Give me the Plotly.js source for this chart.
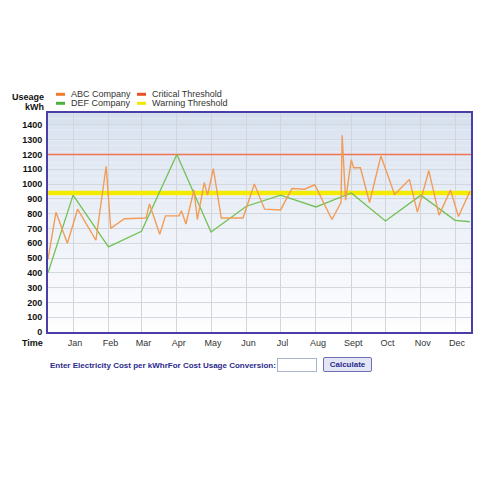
<!DOCTYPE html>
<html>
<head>
<meta charset="utf-8">
<script src="https://cdn.plot.ly/plotly-3.0.1.min.js"></script>
<style>
  html, body { margin: 0; padding: 0; background: #ffffff; }
  #wrap { position: relative; width: 480px; height: 480px; }
  #chart { position: absolute; left: 0; top: 0; width: 480px; height: 480px; }
  #costInput { position: absolute; left: 277px; top: 358px; width: 38px; height: 12px; border: 1px solid #a9b4cc; padding: 0; margin: 0; background: #fff; }
  #calcBtn { position: absolute; left: 323px; top: 357px; width: 49px; height: 15px; padding: 0; margin: 0;
    font: bold 8px "Liberation Sans", Arial, sans-serif; color: #2b2b8c; background: #e3e6f4;
    border: 1px solid #6f70b4; border-radius: 2px; }
</style>
</head>
<body>
<div id="wrap">
  <div id="chart"></div>
  <input id="costInput" type="text">
  <button id="calcBtn">Calculate</button>
</div>
<script>
// ---------- data ----------
const abcDates = ['2011-12-10','2011-12-17','2011-12-27','2012-01-05','2012-01-21','2012-01-30','2012-02-03','2012-02-15',
  '2012-03-05','2012-03-08','2012-03-17','2012-03-22','2012-04-03','2012-04-05','2012-04-09','2012-04-16','2012-04-19',
  '2012-04-25','2012-04-28','2012-05-03','2012-05-10','2012-05-29','2012-06-08','2012-06-17','2012-07-01','2012-07-11',
  '2012-07-22','2012-07-31','2012-08-15','2012-08-23','2012-08-24','2012-08-27','2012-09-01','2012-09-03','2012-09-09',
  '2012-09-17','2012-09-27','2012-10-09','2012-10-22','2012-10-29','2012-11-08','2012-11-17','2012-11-27','2012-12-04','2012-12-14'];
const abcUsage = [490,810,600,830,620,1120,700,765,
  770,865,660,785,785,820,730,960,760,
  1010,925,1105,770,770,1000,830,825,970,
  965,995,760,875,1330,890,1165,1110,1110,
  875,1190,930,1030,810,1090,790,960,780,950];

const defDates = ['2011-12-10','2012-01-01','2012-02-01','2012-03-01','2012-04-01','2012-05-01','2012-06-01',
  '2012-07-01','2012-08-01','2012-09-01','2012-10-01','2012-11-01','2012-12-01','2012-12-14'];
const defUsage = [400,925,575,680,1200,675,850,925,845,940,750,925,755,745];

const criticalThreshold = 1200;
const warningThreshold = 940;

const seriesNames = ['ABC Company','DEF Company','Critical Threshold','Warning Threshold'];
const monthTicks = ['2012-01-01','2012-02-01','2012-03-01','2012-04-01','2012-05-01','2012-06-01',
  '2012-07-01','2012-08-01','2012-09-01','2012-10-01','2012-11-01','2012-12-01'];
const monthLabels = ['Jan','Feb','Mar','Apr','May','Jun','Jul','Aug','Sept','Oct','Nov','Dec'];
const xRange = ['2011-12-10','2012-12-15'];
const yRange = [0, 1480];

// ---------- styles ----------
const C_ABC = '#f29c58', C_DEF = '#72c055', C_CRIT = '#f07555', C_WARN = '#f4ec00';
const C_FRAME = '#4a3fa6';
const FONT = '"Liberation Sans", Arial, sans-serif';

// plot box in pixels
const L = 48, R = 9, T = 113, B = 148, W = 480 - L - R, H = 480 - T - B;
const px = x => (x - L) / W;
const py = y => (T + H - y) / H;

const traces = [
  { x: xRange, y: [criticalThreshold, criticalThreshold], type: 'scatter', mode: 'lines', name: seriesNames[2],
    line: { color: C_CRIT, width: 1.5 }, showlegend: false },
  { x: xRange, y: [warningThreshold, warningThreshold], type: 'scatter', mode: 'lines', name: seriesNames[3],
    line: { color: C_WARN, width: 4.5 }, showlegend: false },
  { x: defDates, y: defUsage, type: 'scatter', mode: 'lines', name: seriesNames[1],
    line: { color: C_DEF, width: 1.3 }, showlegend: false },
  { x: abcDates, y: abcUsage, type: 'scatter', mode: 'lines', name: seriesNames[0],
    line: { color: C_ABC, width: 1.4 }, showlegend: false }
];

const shapes = [];
// background gradient
const NB = 40, gradTop = [214,224,238], gradBot = [254,254,255];
for (let i = 0; i < NB; i++) {
  const t = 1 - (i + 0.5) / NB; // 0 at top
  const f = Math.pow(t, 0.85);
  const c = gradTop.map((v, k) => Math.round(v + (gradBot[k] - v) * f));
  shapes.push({ type: 'rect', xref: 'x domain', yref: 'y domain', x0: 0, x1: 1, y0: i / NB, y1: (i + 1) / NB,
    fillcolor: `rgb(${c[0]},${c[1]},${c[2]})`, line: { width: 0 }, layer: 'below' });
}

// manual legend
const legendItems = [
  { name: seriesNames[0], color: '#f07a30', mx: 56, ty: 94.3 },
  { name: seriesNames[1], color: '#4fb040', mx: 56, ty: 103.3 },
  { name: seriesNames[2], color: '#e8502a', mx: 137, ty: 94.3 },
  { name: seriesNames[3], color: '#f2e600', mx: 137, ty: 103.3 }
];
const annotations = [];
legendItems.forEach(it => {
  shapes.push({ type: 'line', xref: 'paper', yref: 'paper', x0: px(it.mx), x1: px(it.mx + 9), y0: py(it.ty), y1: py(it.ty),
    line: { color: it.color, width: 3 }, layer: 'above' });
  annotations.push({ text: it.name, xref: 'paper', yref: 'paper', x: px(it.mx + 12.5), y: py(it.ty),
    xanchor: 'left', yanchor: 'middle', showarrow: false, font: { family: FONT, size: 9, color: '#333' } });
});
annotations.push({ text: 'Useage', xref: 'paper', yref: 'paper', x: px(46), y: py(96.7), xanchor: 'right', yanchor: 'middle',
  showarrow: false, font: { family: FONT, size: 9, color: '#111', weight: 'bold' } });
annotations.push({ text: 'kWh', xref: 'paper', yref: 'paper', x: px(46), y: py(106.5), xanchor: 'right', yanchor: 'middle',
  showarrow: false, font: { family: FONT, size: 9, color: '#111', weight: 'bold' } });
annotations.push({ text: 'Time', xref: 'paper', yref: 'paper', x: px(45), y: py(343.3), xanchor: 'right', yanchor: 'middle',
  showarrow: false, font: { family: FONT, size: 9, color: '#111', weight: 'bold' } });
annotations.push({ text: 'Enter Electricity Cost per kWhrFor Cost Usage Conversion:', xref: 'paper', yref: 'paper',
  x: px(48), y: py(365), xanchor: 'left', yanchor: 'middle', showarrow: false,
  font: { family: FONT, size: 8, color: '#2b2b8c', weight: 'bold' } });

const layout = {
  width: 480, height: 480,
  margin: { l: L, r: R, t: T, b: B, pad: 0 },
  paper_bgcolor: '#ffffff', plot_bgcolor: '#ffffff',
  showlegend: false,
  font: { family: FONT },
  xaxis: {
    type: 'date', range: xRange, tickmode: 'array', tickvals: monthTicks, ticktext: monthLabels,
    showgrid: true, gridcolor: '#d2d5dc', gridwidth: 1, ticks: '', zeroline: false,
    tickfont: { family: FONT, size: 9, color: '#333' }, ticklabelshift: 2, ticklabelstandoff: 1,
    showline: true, linecolor: C_FRAME, linewidth: 2, mirror: true, fixedrange: true
  },
  yaxis: {
    range: yRange, tickmode: 'linear', tick0: 0, dtick: 100,
    showgrid: true, gridcolor: '#d3d7df', gridwidth: 1, ticks: '', zeroline: false,
    tickfont: { family: FONT, size: 9, color: '#111', weight: 'bold' }, ticklabelstandoff: 2,
    showline: true, linecolor: C_FRAME, linewidth: 2, mirror: true, fixedrange: true
  },
  shapes: shapes,
  annotations: annotations
};

Plotly.newPlot('chart', traces, layout, { displayModeBar: false, staticPlot: true });
</script>
</body>
</html>
